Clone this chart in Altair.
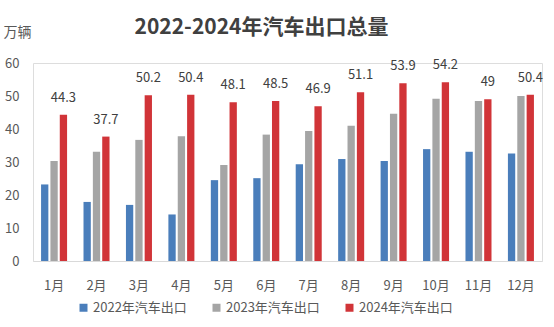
import altair as alt
import pandas as pd

months = ["1月", "2月", "3月", "4月", "5月", "6月", "7月", "8月", "9月", "10月", "11月", "12月"]
series_names = ["2022年汽车出口", "2023年汽车出口", "2024年汽车出口"]
v2022 = [23.2, 17.9, 17.0, 14.1, 24.5, 25.1, 29.3, 30.9, 30.3, 33.9, 33.1, 32.6]
v2023 = [30.3, 33.1, 36.7, 37.8, 29.1, 38.3, 39.4, 41.0, 44.6, 49.2, 48.5, 50.0]
v2024 = [44.3, 37.7, 50.2, 50.4, 48.1, 48.5, 46.9, 51.1, 53.9, 54.2, 49.0, 50.4]
y_ticks = [0, 10, 20, 30, 40, 50, 60]
colors = ["#4a7ebb", "#a5a5a5", "#d13438"]

rows = []
for name, vals in zip(series_names, [v2022, v2023, v2024]):
    for m, v in zip(months, vals):
        rows.append({"month": m, "series": name, "value": v,
                     "label": f"{v:g}"})
df = pd.DataFrame(rows)

FONT = "Noto Sans CJK SC"

x_enc = alt.X("month:N", sort=months, title=None,
              scale=alt.Scale(paddingInner=0.387, paddingOuter=0.19),
              axis=alt.Axis(labelAngle=0, ticks=False, domainColor="#d9d9d9",
                            domainWidth=1, labelFontSize=13, labelColor="#595959",
                            labelPadding=18, labelFont=FONT))
xo_enc = alt.XOffset("series:N", sort=series_names,
                     scale=alt.Scale(paddingInner=0.22, paddingOuter=0))
y_enc = alt.Y("value:Q", scale=alt.Scale(domain=[0, 60], nice=False),
              axis=alt.Axis(values=y_ticks, grid=False,
                            labelOverlap=False, labelSeparation=0,
                            domain=False, ticks=False, labelFontSize=13,
                            labelColor="#595959", labelPadding=14, labelFont=FONT,
                            title="万辆", titleAngle=0, titleX=-30, titleY=-31,
                            titleAlign="left", titleBaseline="middle",
                            titleFontSize=14, titleFontWeight="normal",
                            titleColor="#595959", titleFont=FONT))

bars = alt.Chart(df).mark_bar().encode(
    x=x_enc, xOffset=xo_enc, y=y_enc,
    color=alt.Color("series:N", sort=series_names,
                    scale=alt.Scale(domain=series_names, range=colors),
                    legend=alt.Legend(title=None, orient="none", direction="horizontal",
                                      legendX=44, legendY=238, symbolType="square",
                                      symbolSize=64, symbolStrokeWidth=0,
                                      labelFontSize=13, labelColor="#595959",
                                      labelFont=FONT, labelOffset=3,
                                      columnPadding=23, labelLimit=200)),
)

labels = alt.Chart(df).transform_filter(
    alt.datum.series == "2024年汽车出口"
).mark_text(baseline="alphabetic", dy=-13, fontSize=13, color="#404040",
            font=FONT).encode(
    x=x_enc, xOffset=xo_enc, y=y_enc, text="label:N")

chart = alt.layer(bars, labels).properties(
    width=509, height=198,
    title=alt.TitleParams("2022-2024年汽车出口总量", fontSize=21, fontWeight="bold",
                          color="#404040", font=FONT, anchor="middle", dx=-26,
                          frame="group", offset=-30, baseline="alphabetic"),
    autosize=alt.AutoSizeParams(type="none"),
    padding={"left": 33, "top": 63, "right": 12, "bottom": 66},
).configure_view(stroke=None).configure(background="white").configure_axisY(
    labelOverlap=False)

chart.save("out.html", embed_options={"renderer": "svg", "actions": False})
